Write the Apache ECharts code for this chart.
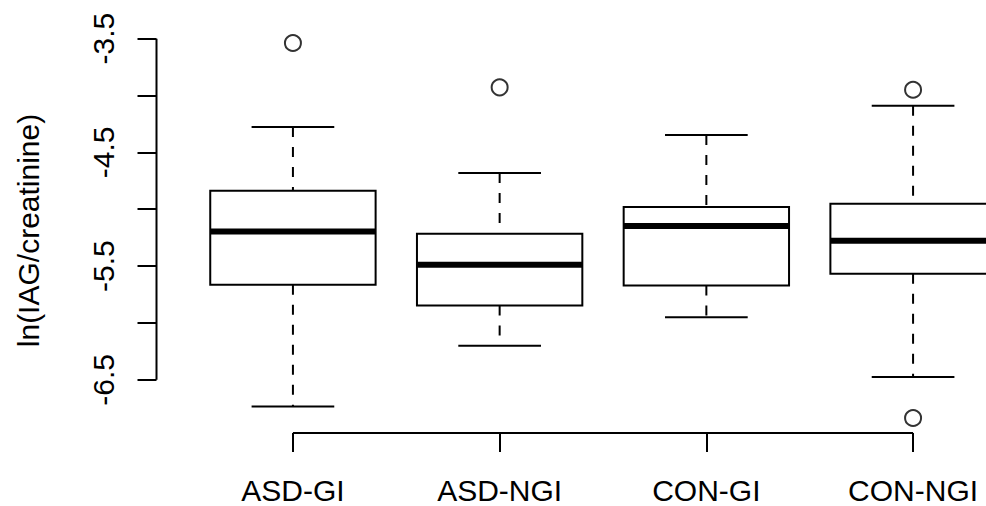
<!DOCTYPE html>
<html><head><meta charset="utf-8">
<script src="https://cdn.jsdelivr.net/npm/echarts@6/dist/echarts.min.js"></script>
<style>html,body{margin:0;padding:0;background:#fff;overflow:hidden;width:986px;height:506px}#c{width:1050px;height:506px}</style>
</head><body><div id="c"></div>
<script>
const categories = ['ASD-GI', 'ASD-NGI', 'CON-GI', 'CON-NGI'];
const lowerWhisker = [-6.734, -6.200, -5.951, -6.475];
const q1 = [-5.664, -5.846, -5.670, -5.567];
const median = [-5.195, -5.488, -5.147, -5.277];
const q3 = [-4.837, -5.215, -4.980, -4.951];
const upperWhisker = [-4.277, -4.681, -4.347, -4.089];
const outlierGroup = [1, 2, 4, 4];
const outlierValue = [-3.538, -3.928, -3.949, -6.836];
const yTicks = [-6.5, -6, -5.5, -5, -4.5, -4, -3.5];
const yTickLabels = [-6.5, -5.5, -4.5, -3.5];
const yTitle = 'ln(IAG/creatinine)';

// R-style axis ranges (4% padding)
const allVals = lowerWhisker.concat(upperWhisker, outlierValue);
const lo = Math.min.apply(null, allVals), hi = Math.max.apply(null, allVals);
const pad = 0.04 * (hi - lo);
const yMin = lo - pad, yMax = hi + pad;
const xMin = 0.5 - 0.04 * categories.length, xMax = categories.length + 0.5 + 0.04 * categories.length;

const FONT = "'Liberation Sans', Arial, Helvetica, sans-serif";
const chart = echarts.init(document.getElementById('c'), null, {renderer: 'svg'});

const boxData = categories.map((c, i) => [i + 1, lowerWhisker[i], q1[i], median[i], q3[i], upperWhisker[i]]);
const outData = outlierGroup.map((g, i) => [g, outlierValue[i]]);

function renderBox(params, api) {
  const x = api.value(0);
  const lw = api.value(1), b = api.value(2), m = api.value(3), t = api.value(4), uw = api.value(5);
  const hw = 0.4, cw = 0.2;
  const tl = api.coord([x - hw, t]), br = api.coord([x + hw, b]);
  const ml = api.coord([x - hw, m]), mr = api.coord([x + hw, m]);
  const cTop = api.coord([x, uw]), cBot = api.coord([x, lw]);
  const capL = api.coord([x - cw, uw]), capR = api.coord([x + cw, uw]);
  const capL2 = api.coord([x - cw, lw]), capR2 = api.coord([x + cw, lw]);
  const blk = {stroke: '#000', lineWidth: 2};
  const dash = {stroke: '#000', lineWidth: 2, lineDash: [10, 10]};
  return {type: 'group', children: [
    {type: 'line', shape: {x1: cTop[0], y1: cTop[1], x2: cTop[0], y2: tl[1]}, style: dash},
    {type: 'line', shape: {x1: cBot[0], y1: br[1], x2: cBot[0], y2: cBot[1]}, style: dash},
    {type: 'line', shape: {x1: capL[0], y1: capL[1], x2: capR[0], y2: capR[1]}, style: blk},
    {type: 'line', shape: {x1: capL2[0], y1: capL2[1], x2: capR2[0], y2: capR2[1]}, style: blk},
    {type: 'rect', shape: {x: tl[0], y: tl[1], width: br[0] - tl[0], height: br[1] - tl[1]}, style: {fill: '#fff', stroke: '#000', lineWidth: 2}},
    {type: 'line', shape: {x1: ml[0], y1: ml[1], x2: mr[0], y2: mr[1]}, style: {stroke: '#000', lineWidth: 6}}
  ]};
}

function renderAxes(params, api) {
  const a = api.coord([1, yMin]), b = api.coord([categories.length, yMin]);
  const c = api.coord([xMin, yTicks[yTicks.length - 1]]), d = api.coord([xMin, yTicks[0]]);
  const s = {stroke: '#000', lineWidth: 2};
  return {type: 'group', children: [
    {type: 'line', shape: {x1: a[0], y1: a[1], x2: b[0], y2: b[1]}, style: s},
    {type: 'line', shape: {x1: c[0], y1: c[1], x2: d[0], y2: d[1]}, style: s}
  ]};
}

chart.setOption({
  backgroundColor: '#fff',
  animation: false,
  grid: {left: 156.5, top: 28, right: 0.5, bottom: 73, containLabel: false},
  xAxis: {
    type: 'value', min: xMin, max: xMax,
    axisLine: {show: false}, splitLine: {show: false},
    axisTick: {show: true, customValues: [1, 2, 3, 4], length: 19, lineStyle: {color: '#000', width: 2}},
    axisLabel: {show: true, customValues: [1, 2, 3, 4], formatter: v => categories[Math.round(v) - 1] || '',
      fontSize: 30, color: '#000', fontFamily: FONT, margin: 42}
  },
  yAxis: {
    type: 'value', min: yMin, max: yMax,
    axisLine: {show: false}, splitLine: {show: false},
    axisTick: {show: true, customValues: yTicks, length: 19, lineStyle: {color: '#000', width: 2}},
    axisLabel: {show: true, customValues: yTickLabels, formatter: v => String(v), rotate: 90,
      fontSize: 30, color: '#000', fontFamily: FONT, margin: 38},
    name: yTitle, nameLocation: 'middle', nameGap: 113, nameRotate: 90,
    nameTextStyle: {fontSize: 30, color: '#000', fontFamily: FONT}
  },
  series: [
    {type: 'custom', renderItem: renderAxes, data: [[0]], clip: false, silent: true},
    {type: 'custom', renderItem: renderBox, data: boxData, encode: {x: 0, y: [1, 2, 3, 4, 5]}, clip: false},
    {type: 'scatter', data: outData, symbol: 'circle', symbolSize: 16,
      itemStyle: {color: 'rgba(0,0,0,0)', borderColor: '#000', borderWidth: 2}}
  ]
});
</script>
</body></html>
